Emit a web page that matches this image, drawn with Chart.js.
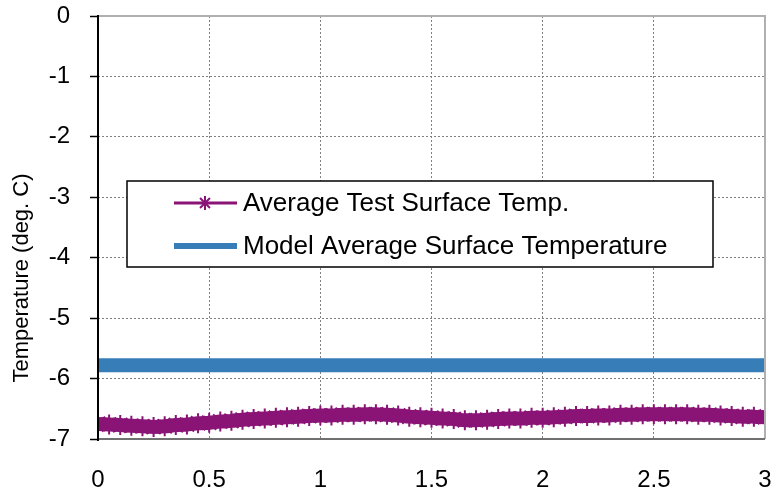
<!DOCTYPE html>
<head>
    <meta charset="utf-8">
    <style>
        body { margin: 0; background: #fff; }
    </style>
</head>

<body>
    <canvas id="tempChart" width="772" height="496"></canvas>
</body>

<script src="https://cdn.jsdelivr.net/npm/chart.js"></script>

<script>

// time axis (hours)
const testTime = [0, 0.05, 0.1, 0.15, 0.2, 0.25, 0.3, 0.35, 0.4, 0.45,
    0.5, 0.55, 0.6, 0.65, 0.7, 0.75, 0.8, 0.85, 0.9, 0.95,
    1, 1.05, 1.1, 1.15, 1.2, 1.25, 1.3, 1.35, 1.4, 1.45,
    1.5, 1.55, 1.6, 1.65, 1.7, 1.75, 1.8, 1.85, 1.9, 1.95,
    2, 2.05, 2.1, 2.15, 2.2, 2.25, 2.3, 2.35, 2.4, 2.45,
    2.5, 2.55, 2.6, 2.65, 2.7, 2.75, 2.8, 2.85, 2.9, 2.95, 3]
const testTemp = [-6.75, -6.76, -6.77, -6.78, -6.79, -6.80, -6.79, -6.77, -6.76, -6.74,
    -6.73, -6.71, -6.70, -6.68, -6.67, -6.66, -6.65, -6.64, -6.63, -6.62,
    -6.61, -6.61, -6.60, -6.60, -6.59, -6.59, -6.60, -6.61, -6.63, -6.64,
    -6.65, -6.66, -6.67, -6.69, -6.69, -6.68, -6.67, -6.66, -6.66, -6.65,
    -6.65, -6.64, -6.63, -6.62, -6.62, -6.61, -6.61, -6.60, -6.60, -6.59,
    -6.59, -6.59, -6.59, -6.59, -6.60, -6.60, -6.61, -6.62, -6.63, -6.63, -6.64]

const modelTime = [0, 3]
const modelTemp = [-5.78, -5.78]

const xTickValues = [0, 0.5, 1, 1.5, 2, 2.5, 3]
const yTickValues = [-7, -6, -5, -4, -3, -2, -1, 0]

const seriesNames = ['Average Test Surface Temp.', 'Model Average Surface Temperature']
const yTitle = 'Temperature (deg. C)'

const purple = '#8a1476'
const blue = '#377db8'

function toPoints(xs, ys) {
    return xs.map((x, i) => ({ x: x, y: ys[i] }))
}

// no automatic label overhang, the layout padding decides
function noOverhang(scale) {
    scale.paddingTop = 0
    scale.paddingBottom = 0
    scale.paddingLeft = 0
    scale.paddingRight = 0
}

// frame, y title and the boxed legend inside the plot
var extrasPlugin = {
    id: 'extras',
    afterDraw(chart) {
        var ctx = chart.ctx
        var a = chart.chartArea
        ctx.save()

        // frame
        ctx.lineWidth = 2
        ctx.strokeStyle = '#b0b0b0'
        ctx.beginPath()
        ctx.moveTo(a.left, a.top); ctx.lineTo(a.right, a.top); ctx.lineTo(a.right, a.bottom)
        ctx.stroke()
        ctx.strokeStyle = '#707070'
        ctx.beginPath()
        ctx.moveTo(a.left, a.bottom); ctx.lineTo(a.right, a.bottom)
        ctx.stroke()
        ctx.strokeStyle = '#000'
        ctx.beginPath()
        ctx.moveTo(a.left, a.top - 1); ctx.lineTo(a.left, a.bottom + 2)
        ctx.stroke()

        // y title
        ctx.fillStyle = '#000'
        ctx.font = '22px "Liberation Sans", Arial, sans-serif'
        ctx.textAlign = 'center'
        ctx.textBaseline = 'middle'
        ctx.translate(22, 278)
        ctx.rotate(-Math.PI / 2)
        ctx.fillText(yTitle, 0, 0)
        ctx.setTransform(1, 0, 0, 1, 0, 0)

        // legend box
        var bx = 127, by = 181, bw = 586, bh = 86
        ctx.fillStyle = '#fff'
        ctx.fillRect(bx, by, bw, bh)
        ctx.strokeStyle = '#000'
        ctx.lineWidth = 1.5
        ctx.strokeRect(bx, by, bw, bh)

        var rows = [203, 246]
        // sample 1: thin purple line with star
        ctx.strokeStyle = purple
        ctx.lineWidth = 3
        ctx.beginPath(); ctx.moveTo(174, rows[0]); ctx.lineTo(237, rows[0]); ctx.stroke()
        ctx.lineWidth = 2
        Chart.helpers.drawPoint(ctx, { pointStyle: 'star', radius: 7, borderWidth: 2 }, 205, rows[0])
        // sample 2: blue line
        ctx.strokeStyle = blue
        ctx.lineWidth = 6
        ctx.beginPath(); ctx.moveTo(174, rows[1]); ctx.lineTo(237, rows[1]); ctx.stroke()

        ctx.fillStyle = '#000'
        ctx.font = '26px "Liberation Sans", Arial, sans-serif'
        ctx.textAlign = 'left'
        ctx.textBaseline = 'middle'
        ctx.fillText(seriesNames[0], 243, rows[0] + 1)
        ctx.fillText(seriesNames[1], 243, rows[1] + 1)

        ctx.restore()
    }
}

var ctx = document.getElementById('tempChart').getContext('2d')

var tempChart = new Chart(ctx, {
    type: 'scatter',
    data: {
        datasets: [{
            label: seriesNames[1],
            data: toPoints(modelTime, modelTemp),
            showLine: true,
            borderColor: blue,
            borderWidth: 14,
            pointRadius: 0,
            borderCapStyle: 'butt'
        }, {
            label: seriesNames[0],
            data: toPoints(testTime, testTemp),
            showLine: true,
            borderColor: purple,
            backgroundColor: purple,
            borderWidth: 14,
            pointStyle: 'star',
            pointRadius: 10,
            pointBorderWidth: 2,
            pointBorderColor: purple,
            tension: 0.3
        }]
    },
    options: {
        responsive: false,
        animation: false,
        layout: { autoPadding: false, padding: { left: 0, right: 7, top: 16, bottom: 0 } },
        plugins: {
            legend: { display: false },
            tooltip: { enabled: false }
        },
        scales: {
            x: {
                type: 'linear',
                min: 0,
                max: 3,
                afterBuildTicks: function (scale) {
                    scale.ticks = xTickValues.map(v => ({ value: v }))
                },
                afterFit: function (scale) {
                    scale.height = 57
                    noOverhang(scale)
                },
                ticks: {
                    color: '#000',
                    padding: 27,
                    maxRotation: 0,
                    font: { family: '"Liberation Sans", Arial, sans-serif', size: 24 },
                    callback: v => String(v)
                },
                grid: {
                    color: '#808080',
                    lineWidth: 1,
                    tickLength: 0,
                    drawTicks: false
                },
                border: { display: false, dash: [2, 2] }
            },
            y: {
                min: -7,
                max: 0,
                afterBuildTicks: function (scale) {
                    scale.ticks = yTickValues.map(v => ({ value: v }))
                },
                afterFit: function (scale) {
                    scale.width = 98
                    noOverhang(scale)
                },
                ticks: {
                    color: '#000',
                    padding: 20,
                    font: { family: '"Liberation Sans", Arial, sans-serif', size: 24 },
                    callback: v => String(v)
                },
                grid: {
                    color: '#808080',
                    lineWidth: 1,
                    tickLength: 8,
                    tickColor: '#000',
                    tickBorderDash: [],
                    tickWidth: 1.5
                },
                border: { display: false, dash: [2, 2] }
            }
        }
    },
    plugins: [extrasPlugin]
})

</script>
</html>
